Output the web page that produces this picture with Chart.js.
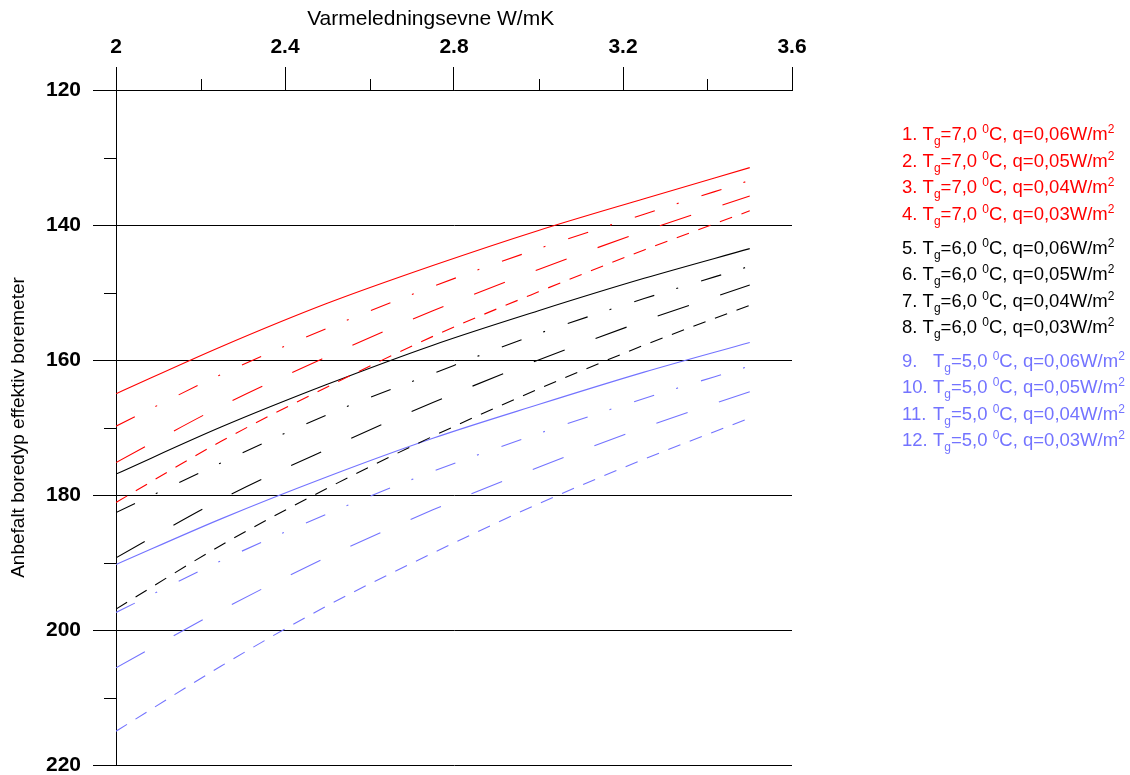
<!DOCTYPE html>
<html>
<head>
<meta charset="utf-8">
<script src="https://cdn.jsdelivr.net/npm/chart.js@4.4.1/dist/chart.umd.min.js"></script>
<style>
html, body { margin: 0; padding: 0; background: #fff; overflow: hidden; width: 1130px; height: 775px; }
#wrap { position: relative; width: 1130px; height: 775px; overflow: hidden; }
canvas { position: absolute; left: 0; top: 0; }
.leg { position: absolute; left: 902px; font-family: "Liberation Sans", Arial, sans-serif; font-size: 18.5px; line-height: 20px; white-space: pre; }
.num { display: inline-block; }
.sb { font-size: 12px; position: relative; top: 5px; }
.sp { font-size: 12px; position: relative; top: -7px; }
</style>
</head>
<body>
<div id="wrap">
  <canvas id="c" width="1130" height="800"></canvas>
  <div id="legend"></div>
</div>
<script>
// ---- data ----
const xValues = [2, 2.25, 2.5, 2.75, 3, 3.25, 3.5];

const red1 = [165.0, 158.0, 151.6, 146.0, 140.8, 136.1, 131.5];
const red2 = [169.8, 162.1, 155.3, 149.1, 143.5, 138.4, 133.4];
const red3 = [175.2, 166.8, 159.5, 152.7, 146.6, 140.9, 135.7];
const red4 = [181.1, 172.0, 164.0, 156.5, 149.9, 143.7, 137.9];

const black5 = [176.9, 169.9, 163.6, 157.8, 152.7, 147.9, 143.5];
const black6 = [182.6, 175.2, 168.1, 162.0, 156.1, 150.9, 146.1];
const black7 = [189.3, 180.6, 173.2, 166.3, 160.0, 154.2, 148.9];
const black8 = [196.9, 187.4, 179.0, 171.3, 164.3, 157.8, 151.9];

const blue9  = [190.3, 183.5, 177.3, 171.6, 166.6, 161.8, 157.4];
const blue10 = [197.4, 189.7, 182.8, 176.5, 170.9, 165.7, 160.9];
const blue11 = [205.6, 197.0, 189.2, 182.2, 175.9, 170.0, 164.7];
const blue12 = [215.0, 205.3, 196.4, 188.6, 181.3, 174.7, 168.6];

const xTickLabels = ['2', '2.4', '2.8', '3.2', '3.6'];
const yTickLabels = ['120', '140', '160', '180', '200', '220'];
const xMinorTicks = [2.2, 2.6, 3.0, 3.4];
const yMinorTicks = [130, 150, 170, 190, 210];

const legendNumbers = ['1.', '2.', '3.', '4.', '5.', '6.', '7.', '8.', '9.', '10.', '11.', '12.'];
const legendTg = ['7,0', '7,0', '7,0', '7,0', '6,0', '6,0', '6,0', '6,0', '5,0', '5,0', '5,0', '5,0'];
const legendQ = ['0,06', '0,05', '0,04', '0,03', '0,06', '0,05', '0,04', '0,03', '0,06', '0,05', '0,04', '0,03'];

const xTitle = 'Varmeledningsevne W/mK';
const yTitle = 'Anbefalt boredyp effektiv boremeter';

// ---- styles ----
const RED = '#ff0000', BLACK = '#000000', BLUE = '#7373ff';
const SOLID = [], DASHDOT = [21, 23, 2, 24], LONG = [33, 33], SHORT = [13, 10];
const FONT = '"Liberation Sans", Arial, sans-serif';

const seriesList = [
  [red1, RED, SOLID], [red2, RED, DASHDOT], [red3, RED, LONG], [red4, RED, SHORT],
  [black5, BLACK, SOLID], [black6, BLACK, DASHDOT], [black7, BLACK, LONG], [black8, BLACK, SHORT],
  [blue9, BLUE, SOLID], [blue10, BLUE, DASHDOT], [blue11, BLUE, LONG], [blue12, BLUE, SHORT]
];

const datasets = seriesList.map(([arr, color, dash], i) => ({
  label: legendNumbers[i],
  data: xValues.map((x, j) => ({ x: x, y: arr[j] })),
  borderColor: color,
  borderDash: dash,
  borderWidth: 1.1,
  pointRadius: 0,
  fill: false,
  cubicInterpolationMode: 'monotone'
}));

const minorTicks = {
  id: 'minorTicks',
  afterDraw(chart) {
    const ctx = chart.ctx;
    const xs = chart.scales.x, ys = chart.scales.y, a = chart.chartArea;
    ctx.save();
    ctx.strokeStyle = '#000';
    ctx.lineWidth = 1;
    ctx.beginPath();
    xMinorTicks.forEach(v => {
      const px = Math.round(xs.getPixelForValue(v)) + 0.5;
      ctx.moveTo(px, a.top);
      ctx.lineTo(px, a.top - 11);
    });
    yMinorTicks.forEach(v => {
      const py = Math.round(ys.getPixelForValue(v)) + 0.5;
      ctx.moveTo(a.left, py);
      ctx.lineTo(a.left - 12, py);
    });
    ctx.stroke();
    ctx.restore();
  }
};

new Chart(document.getElementById('c'), {
  type: 'line',
  data: { datasets: datasets },
  options: {
    responsive: false,
    animation: false,
    devicePixelRatio: 1,
    layout: { padding: { left: 0, top: 0, right: 338, bottom: 35 } },
    plugins: { legend: { display: false }, tooltip: { enabled: false } },
    scales: {
      x: {
        type: 'linear', position: 'top', min: 2, max: 3.6,
        ticks: {
          stepSize: 0.4, autoSkip: false, maxRotation: 0, padding: 7, color: '#000',
          font: { family: FONT, size: 21, weight: 'bold' },
          callback: (v) => xTickLabels[Math.round((v - 2) / 0.4)]
        },
        grid: { drawOnChartArea: false, drawTicks: true, tickLength: 23, color: '#000', lineWidth: 1 },
        border: { display: true, color: '#000', width: 1 },
        title: { display: true, text: xTitle + '\u00a0\u00a0\u00a0\u00a0\u00a0\u00a0\u00a0\u00a0', color: '#000', font: { family: FONT, size: 21 }, padding: { top: 7, bottom: 0 } },
        afterFit: (s) => { s.height = 90; }
      },
      y: {
        type: 'linear', position: 'left', reverse: true, min: 120, max: 220,
        ticks: {
          stepSize: 20, autoSkip: false, padding: 12, color: '#000',
          font: { family: FONT, size: 21, weight: 'bold' },
          callback: (v) => yTickLabels[Math.round((v - 120) / 20)]
        },
        grid: { drawOnChartArea: true, drawTicks: true, tickLength: 23, color: '#000', lineWidth: 1 },
        border: { display: true, color: '#000', width: 1 },
        title: { display: true, text: yTitle, color: '#000', font: { family: FONT, size: 19 }, padding: { top: 7, bottom: 0 } },
        afterFit: (s) => { s.width = 116; }
      }
    }
  },
  plugins: [minorTicks]
});

// ---- legend (HTML text with sub/superscripts) ----
const legendCenters = [134.5, 161, 187.5, 214, 248, 274.5, 301, 327.5, 361, 387.5, 414, 440.5];
const legendColors = [RED, RED, RED, RED, BLACK, BLACK, BLACK, BLACK, BLUE, BLUE, BLUE, BLUE];
const legEl = document.getElementById('legend');
legendNumbers.forEach((n, i) => {
  const d = document.createElement('div');
  d.className = 'leg';
  d.style.top = (legendCenters[i] - 10.2) + 'px';
  d.style.color = legendColors[i];
  const numStyle = i >= 8 ? 'style="width:31px"' : '';
  const numText = i >= 8 ? n : n + ' ';
  d.innerHTML = '<span class="num" ' + numStyle + '>' + numText + '</span>T<span class="sb">g</span>=' + legendTg[i] +
    ' <span class="sp">0</span>C, q=' + legendQ[i] + 'W/m<span class="sp">2</span>';
  legEl.appendChild(d);
});
</script>
</body>
</html>
